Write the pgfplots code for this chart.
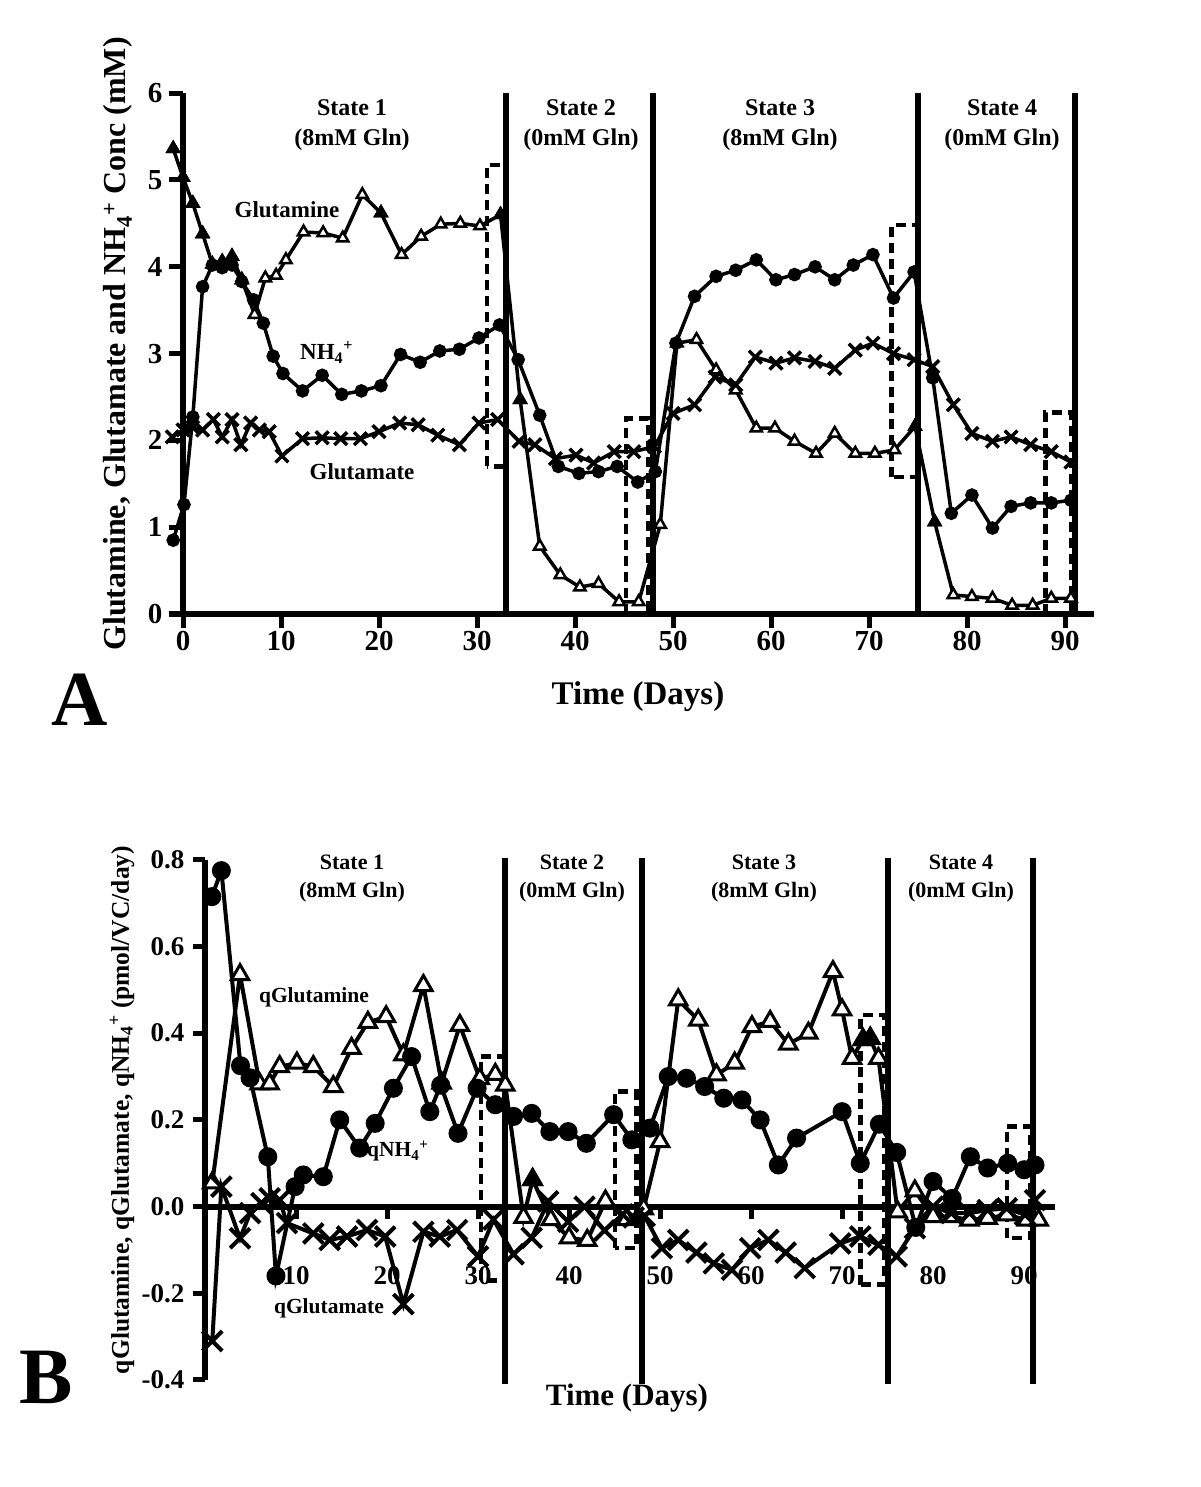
\documentclass[border=0pt]{standalone}
\usepackage{fontspec}
\setmainfont{Liberation Serif}
\usepackage{pgfplots}
\pgfplotsset{compat=1.18}
\pgfplotsset{
  mybase/.style={
    scale only axis, clip=false,
    axis line style={line width=6pt,-},
    x axis line style={-}, y axis line style={-},
    every inner x axis line/.append style={-},
    every inner y axis line/.append style={-},
    every outer x axis line/.append style={-},
    every outer y axis line/.append style={-},
    tick style={line width=5pt, black},
    tick align=outside,
    hide obscured x ticks=false, hide obscured y ticks=false,
  },
  stateline/.style={line width=6pt, no marks, black},
  dbox/.style={line width=4.5pt, no marks, black, dash pattern=on 10pt off 6pt},
}
\begin{document}
\begin{tikzpicture}[x=1pt,y=1pt]
\useasboundingbox (0,0) rectangle (1200,1487);

% ---------------- Panel A ----------------
\begin{axis}[
  at={(183pt,873pt)}, anchor=south west,
  width=911.4pt, height=520.8pt,
  xmin=0, xmax=93, ymin=0, ymax=6,
  axis x line=bottom, axis y line=left,
  mybase,
  xtick={0,10,20,30,40,50,60,70,80,90},
  xticklabels={0,10,20,30,40,50,60,70,80,90},
  ytick={0,1,2,3,4,5,6}, yticklabels={0,1,2,3,4,5,6},
  major tick length=14pt,
  tick label style={font=\fontsize{29}{29}\selectfont\bfseries},
  yticklabel style={xshift=-3pt},
]
\addplot[line width=6pt, no marks] coordinates {(-1.4,0) (0,0)};
\addplot[stateline] coordinates {(33,0) (33,6)};
\addplot[stateline] coordinates {(48,0) (48,6)};
\addplot[stateline] coordinates {(75,0) (75,6)};
\addplot[stateline] coordinates {(91,0) (91,6)};
\addplot[dbox] coordinates {(31,1.7) (31,5.17) (33,5.17) (33,1.7) (31,1.7)};
\addplot[dbox] coordinates {(45.2,0) (45.2,2.25) (47.5,2.25) (47.5,0)};
\addplot[dbox] coordinates {(72.3,1.58) (72.3,4.48) (75,4.48) (75,1.58) (72.3,1.58)};
\addplot[dbox] coordinates {(88,0) (88,2.32) (90.6,2.32) (90.6,0)};
% Glutamine
\addplot[line width=3.5pt, mark=triangle*, mark size=6.5pt, mark options={fill=white, line width=2.5pt, solid}] coordinates {
(-1,5.36) (0,5.03) (1,4.73) (2,4.38) (3,4.03) (4,4.06) (5,4.12) (6,3.85) (7.3,3.45) (8.4,3.87) (9.5,3.9) (10.5,4.08)
(12.3,4.4) (14.3,4.39) (16.3,4.33) (18.3,4.83) (20.2,4.62) (22.3,4.14) (24.3,4.35) (26.3,4.49) (28.3,4.5) (30.3,4.47)
(32.4,4.6) (34.4,2.47) (36.4,0.78) (38.5,0.45) (40.5,0.31) (42.4,0.35) (44.5,0.14) (46.5,0.14) (48.7,1.03)
(50.4,3.12) (52.4,3.16) (54.4,2.81) (56.4,2.58) (58.5,2.14) (60.4,2.14) (62.4,1.99) (64.6,1.85) (66.5,2.08)
(68.6,1.85) (70.6,1.85) (72.6,1.89) (74.7,2.16) (76.7,1.06) (78.6,0.22) (80.5,0.2) (82.6,0.18) (84.6,0.1)
(86.7,0.1) (88.6,0.18) (90.6,0.18)};
\addplot[only marks, mark=triangle*, mark size=6.5pt, mark options={fill=black, line width=2.5pt}] coordinates {
(-1,5.36) (0,5.03) (1,4.73) (2,4.38) (3,4.03) (4,4.06) (5,4.12) (6,3.85) (20.2,4.62) (32.4,4.6) (34.4,2.47) (74.7,2.16) (76.7,1.06)};
% NH4+
\addplot[line width=3.5pt, mark=*, mark size=5pt, mark options={fill=black, solid}] coordinates {
(-1,0.85) (0.1,1.26) (1,2.27) (2,3.77) (3,4.02) (4,3.99) (5,4.02) (6,3.83) (7.2,3.62) (8.2,3.35) (9.2,2.97) (10.2,2.77)
(12.2,2.57) (14.2,2.75) (16.2,2.53) (18.2,2.57) (20.2,2.63) (22.2,2.99) (24.2,2.9) (26.2,3.03) (28.2,3.05) (30.2,3.18)
(32.3,3.33) (34.2,2.93) (36.4,2.29) (38.3,1.7) (40.4,1.62) (42.4,1.64) (44.3,1.7) (46.4,1.52) (48.2,1.64)
(50.3,3.12) (52.2,3.66) (54.4,3.89) (56.4,3.96) (58.5,4.08) (60.5,3.85) (62.4,3.91) (64.5,4.0) (66.5,3.85)
(68.4,4.02) (70.4,4.14) (72.5,3.64) (74.6,3.94) (76.5,2.72) (78.4,1.16) (80.5,1.37) (82.6,0.99) (84.5,1.24)
(86.5,1.28) (88.6,1.28) (90.6,1.31)};
% Glutamate
\addplot[line width=3.5pt, mark=x, mark size=9pt, mark options={line width=3.5pt, solid}] coordinates {
(-1.1,2.04) (0,2.12) (1,2.15) (2,2.12) (3.1,2.24) (4,2.04) (5,2.24) (5.9,1.95) (6.9,2.2) (7.8,2.12) (8.8,2.1) (10.1,1.82)
(12.2,2.02) (14.2,2.03) (16.1,2.02) (18.1,2.02) (20,2.1) (22.1,2.2) (24,2.18) (26,2.06) (28.2,1.95) (30.2,2.2)
(32.1,2.24) (34.3,1.99) (35.9,1.95) (38,1.79) (40.1,1.83) (41.9,1.74) (44,1.87) (46,1.87) (48.1,1.93)
(50,2.31) (52.2,2.41) (54.3,2.73) (56.4,2.64) (58.4,2.96) (60.5,2.89) (62.4,2.95) (64.5,2.91) (66.5,2.83)
(68.6,3.04) (70.4,3.12) (72.5,3.0) (74.6,2.93) (76.5,2.85) (78.6,2.41) (80.5,2.08) (82.6,1.99) (84.5,2.04)
(86.5,1.95) (88.6,1.87) (90.6,1.75)};
\end{axis}

% ---------------- Panel B ----------------
\begin{axis}[
  at={(205pt,107pt)}, anchor=south west,
  width=850pt, height=520.2pt,
  xmin=0, xmax=93.4, ymin=-0.4, ymax=0.8,
  axis x line=middle, axis y line=left,
  mybase,
  xtick={10,20,30,40,50,60,70,80,90},
  xticklabels={10,20,30,40,50,60,70,80,90},
  ytick={-0.4,-0.2,0,0.2,0.4,0.6,0.8},
  yticklabels={-0.4,-0.2,0.0,0.2,0.4,0.6,0.8},
  major tick length=12pt,
  tick label style={font=\fontsize{27}{27}\selectfont\bfseries},
  xticklabel style={yshift=-44pt},
  yticklabel style={xshift=-5pt},
]
\addplot[stateline] coordinates {(33,-0.41) (33,0.805)};
\addplot[stateline] coordinates {(48,-0.41) (48,0.805)};
\addplot[stateline] coordinates {(75,-0.41) (75,0.805)};
\addplot[stateline] coordinates {(91,-0.41) (91,0.805)};
\addplot[dbox] coordinates {(30.3,-0.17) (30.3,0.346) (33,0.346) (33,-0.17) (30.3,-0.17)};
\addplot[dbox] coordinates {(45.05,-0.096) (45.05,0.265) (47.4,0.265) (47.4,-0.096) (45.05,-0.096)};
\addplot[dbox] coordinates {(72,-0.18) (72,0.442) (74.6,0.442) (74.6,-0.18) (72,-0.18)};
\addplot[dbox] coordinates {(88.1,-0.073) (88.1,0.185) (90.7,0.185) (90.7,-0.073) (88.1,-0.073)};
% qGlutamine
\addplot[line width=4pt, mark=triangle*, mark size=10pt, mark options={fill=white, line width=3pt, solid}] coordinates {
(0.8,0.055) (3.85,0.535) (6,0.283) (7.1,0.283) (8.2,0.323) (10.1,0.331) (11.9,0.323) (14.1,0.277) (16.1,0.365)
(17.9,0.425) (19.9,0.438) (21.8,0.35) (24,0.51) (26,0.285) (28,0.418) (30.2,0.295) (31.9,0.305) (33,0.28)
(35,-0.025) (36,0.062) (38,-0.03) (40,-0.072) (42,-0.078) (44,0.013) (46.3,-0.03) (48.2,-0.005) (50,0.15)
(52,0.477) (54.2,0.43) (56.2,0.304) (58.2,0.331) (60.1,0.415) (62.1,0.427) (64.1,0.375) (66.3,0.4) (69,0.542)
(70,0.454) (71.1,0.342) (72.3,0.385) (73.1,0.388) (74,0.342) (76.1,-0.012) (78,0.036) (80,-0.023) (82,-0.023)
(84,-0.031) (86,-0.027) (88.1,-0.019) (90.3,-0.031) (91.6,-0.031)};
\addplot[only marks, mark=triangle*, mark size=10pt, mark options={fill=black, line width=3pt}] coordinates {
(36,0.062) (72.3,0.385) (73.1,0.388)};
% qNH4+
\addplot[line width=4pt, mark=*, mark size=7.5pt, mark options={fill=black, solid}] coordinates {
(0.75,0.715) (1.8,0.775) (3.9,0.325) (4.95,0.297) (6.9,0.115) (7.8,-0.16) (9.9,0.046) (10.8,0.073) (13,0.069)
(14.8,0.2) (17,0.135) (18.7,0.192) (20.7,0.273) (22.7,0.346) (24.7,0.219) (25.9,0.28) (27.8,0.169) (29.9,0.273)
(31.9,0.235) (33.9,0.208) (35.9,0.215) (37.9,0.173) (39.9,0.173) (41.9,0.146) (44.9,0.212) (46.9,0.154)
(48.9,0.181) (50.9,0.30) (52.9,0.296) (54.9,0.277) (57,0.25) (59,0.246) (61,0.2) (63,0.096) (65,0.158)
(70,0.219) (72,0.1) (74.1,0.19) (76,0.125) (78.1,-0.048) (80,0.058) (82.1,0.019) (84.1,0.115) (86,0.089)
(88.2,0.1) (90,0.085) (91.2,0.096)};
% qGlutamate
\addplot[line width=4pt, mark=x, mark size=14pt, mark options={line width=4pt, solid}] coordinates {
(0.8,-0.31) (1.8,0.046) (3.85,-0.073) (4.95,-0.015) (6.2,0.008) (7.1,0.019) (8.2,0.015) (9,-0.038) (11.9,-0.062)
(13.7,-0.077) (15.6,-0.069) (17.8,-0.054) (19.8,-0.069) (21.8,-0.225) (24,-0.058) (25.8,-0.069) (27.7,-0.054)
(30,-0.115) (31.7,-0.03) (33.9,-0.11) (35.9,-0.072) (37.7,0.012) (39.9,-0.035) (41.7,0.0) (43.9,-0.055)
(45.9,-0.018) (47.1,-0.025) (48.3,-0.022) (50.2,-0.096) (52,-0.077) (54,-0.106) (55.9,-0.131) (57.9,-0.146)
(59.9,-0.096) (61.9,-0.077) (63.8,-0.106) (65.9,-0.142) (69.8,-0.085) (72,-0.069) (74,-0.088) (76,-0.115)
(78,-0.05) (80,0.0) (82,-0.015) (84,-0.015) (86,-0.008) (88.1,-0.004) (90.1,-0.019) (91.2,0.015)};
\end{axis}

% ---------------- Text ----------------
\begin{scope}[every node/.style={inner sep=0pt}]
% Panel A
\node[align=center, font=\fontsize{24}{30}\selectfont\bfseries] at (352,1362) {State 1\\(8mM Gln)};
\node[align=center, font=\fontsize{24}{30}\selectfont\bfseries] at (581,1362) {State 2\\(0mM Gln)};
\node[align=center, font=\fontsize{24}{30}\selectfont\bfseries] at (780,1362) {State 3\\(8mM Gln)};
\node[align=center, font=\fontsize{24}{30}\selectfont\bfseries] at (1002,1362) {State 4\\(0mM Gln)};
\node[font=\fontsize{23}{23}\selectfont\bfseries] at (287,1277) {Glutamine};
\node[anchor=base west, font=\fontsize{23}{23}\selectfont\bfseries] at (300,1127) {NH\textsubscript{4}\textsuperscript{+}};
\node[font=\fontsize{23}{23}\selectfont\bfseries] at (362,1015) {Glutamate};
\node[font=\fontsize{33}{33}\selectfont\bfseries] at (638,790) {Time (Days)};
\node[rotate=90, font=\fontsize{32}{32}\selectfont\bfseries] at (118,1143) {Glutamine, Glutamate and NH\textsubscript{4}\textsuperscript{+} Conc (mM)};
\node[font=\fontsize{78}{78}\selectfont\bfseries] at (80,787) {A};
% Panel B
\node[align=center, font=\fontsize{22}{28}\selectfont\bfseries] at (352,608) {State 1\\(8mM Gln)};
\node[align=center, font=\fontsize{22}{28}\selectfont\bfseries] at (572,608) {State 2\\(0mM Gln)};
\node[align=center, font=\fontsize{22}{28}\selectfont\bfseries] at (764,608) {State 3\\(8mM Gln)};
\node[align=center, font=\fontsize{22}{28}\selectfont\bfseries] at (961,608) {State 4\\(0mM Gln)};
\node[anchor=base, font=\fontsize{21.5}{21.5}\selectfont\bfseries] at (314,484) {qGlutamine};
\node[anchor=base west, font=\fontsize{21.5}{21.5}\selectfont\bfseries] at (367,330) {qNH\textsubscript{4}\textsuperscript{+}};
\node[anchor=base, font=\fontsize{21.5}{21.5}\selectfont\bfseries] at (329,173) {qGlutamate};
\node[font=\fontsize{31}{31}\selectfont\bfseries] at (627,89) {Time (Days)};
\node[rotate=90, font=\fontsize{25.5}{25.5}\selectfont\bfseries] at (122,377) {qGlutamine, qGlutamate, qNH\textsubscript{4}\textsuperscript{+} (pmol/VC/day)};
\node[font=\fontsize{80}{80}\selectfont\bfseries] at (46,110) {B};
\end{scope}
\end{tikzpicture}
\end{document}
